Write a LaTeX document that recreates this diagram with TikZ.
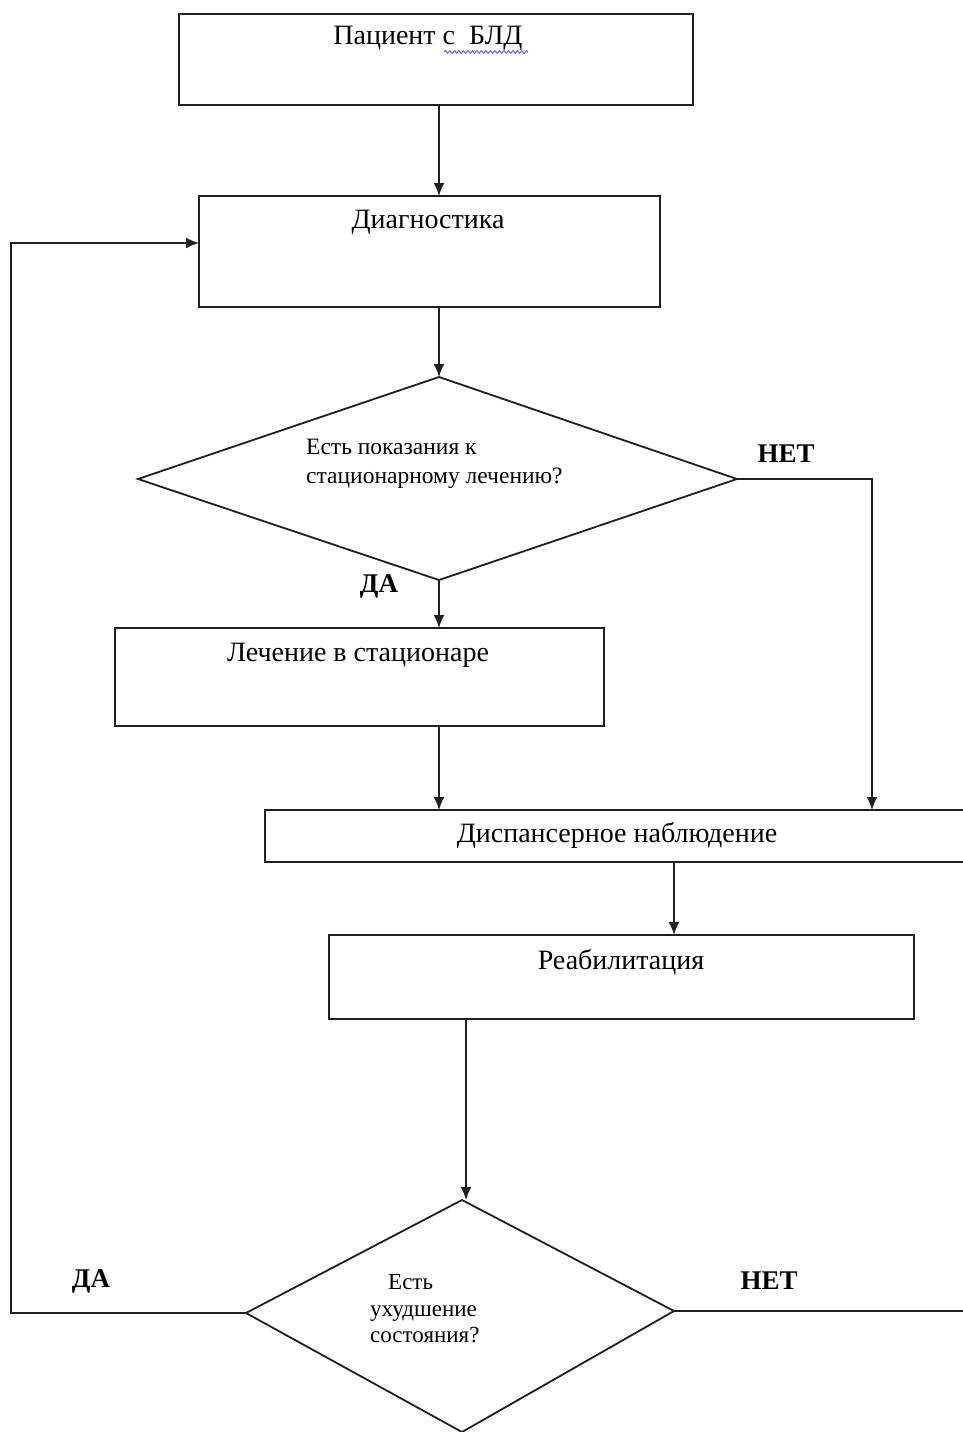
\documentclass[tikz,border=0pt]{standalone}
\usepackage{fontspec}
\setmainfont{Liberation Serif}
\usetikzlibrary{arrows.meta,decorations.pathmorphing}
\begin{document}
\begin{tikzpicture}[x=1pt,y=-1pt,
  line/.style={draw=black!88, line width=1.8pt},
  arr/.style={line, -{Latex[length=13pt,width=11pt]}},
  boxs/.style={draw=black!88, line width=1.8pt, rectangle, inner sep=0pt, outer sep=0pt},
  bigtxt/.style={font=\fontsize{28}{32}\selectfont, inner sep=0pt},
  qtxt/.style={font=\fontsize{23.5}{29}\selectfont, inner sep=0pt, align=left},
  q2txt/.style={font=\fontsize{23}{26.5}\selectfont, inner sep=0pt, align=left},
  lbl/.style={font=\fontsize{27}{30}\selectfont\bfseries, inner sep=0pt}]
\useasboundingbox (0,0) rectangle (963,1432);
\clip (0,0) rectangle (963,1432);
% boxes
\node[boxs, minimum width=514pt, minimum height=91pt] (b1) at (436,59.5) {};
\node[bigtxt] (t1) at (428,38) {Пациент с\ \ БЛД};
\draw[blue!60, line width=1pt, decorate, decoration={snake, amplitude=1.4pt, segment length=4.5pt}] (444,52) -- (528,52);
\node[boxs, minimum width=461pt, minimum height=111pt] (b2) at (429.5,251.5) {};
\node[bigtxt] (t2) at (428,222) {Диагностика};
\node[boxs, minimum width=489pt, minimum height=98pt] (b3) at (359.5,677) {};
\node[bigtxt] (t3) at (358,655) {Лечение в стационаре};
\node[boxs, minimum width=720pt, minimum height=52pt] (b4) at (625,836) {};
\node[bigtxt] (t4) at (617,835) {Диспансерное наблюдение};
\node[boxs, minimum width=585pt, minimum height=84pt] (b5) at (621.5,977) {};
\node[bigtxt] (t5) at (621,962) {Реабилитация};
% diamond 1
\coordinate (d1t) at (439,377);
\coordinate (d1l) at (138,479);
\coordinate (d1r) at (737,479);
\coordinate (d1b) at (439,580);
\draw[line, line join=miter] (d1t) -- (d1r) -- (d1b) -- (d1l) -- cycle;
\node[qtxt, anchor=west] (q1) at (306,464) {Есть показания к\\стационарному лечению?};
% diamond 2
\coordinate (d2t) at (462,1200);
\coordinate (d2l) at (246,1313);
\coordinate (d2r) at (674,1311);
\coordinate (d2b) at (462,1432);
\draw[line, line join=miter] (d2t) -- (d2r) -- (d2b) -- (d2l) -- cycle;
\node[q2txt, anchor=west] (q2) at (370,1309) {\hspace*{18pt}Есть\\ухудшение\\состояния?};
% labels
\node[lbl] (net1) at (786,454) {НЕТ};
\node[lbl] (da1) at (379,586) {ДА};
\node[lbl] (da2) at (91,1281) {ДА};
\node[lbl] (net2) at (769,1281) {НЕТ};
% helper coordinates
\coordinate (c1) at (872,479);
\coordinate (k2) at (674,0);
\coordinate (k3) at (466,0);
\coordinate (c3) at (11,1313);
\coordinate (c3t) at (11,243);
\coordinate (c5) at (963,1311);
% connectors
\draw[arr] (b1.south -| d1t) -- (b2.north -| d1t);
\draw[arr] (b2.south -| d1t) -- (d1t);
\draw[arr] (d1b) -- (b3.north -| d1t);
\draw[arr] (b3.south -| d1t) -- (b4.north -| d1t);
\draw[arr] (d1r) -- (c1) -- (c1 |- b4.north);
\draw[arr] (b4.south -| k2) -- (b5.north -| k2);
\draw[arr] (b5.south -| k3) -- (k3 |- d2t);
\draw[arr] (d2l) -- (c3) -- (c3t) -- (b2.west |- c3t);
\draw[line] (d2r) -- (c5);
\end{tikzpicture}
\end{document}
